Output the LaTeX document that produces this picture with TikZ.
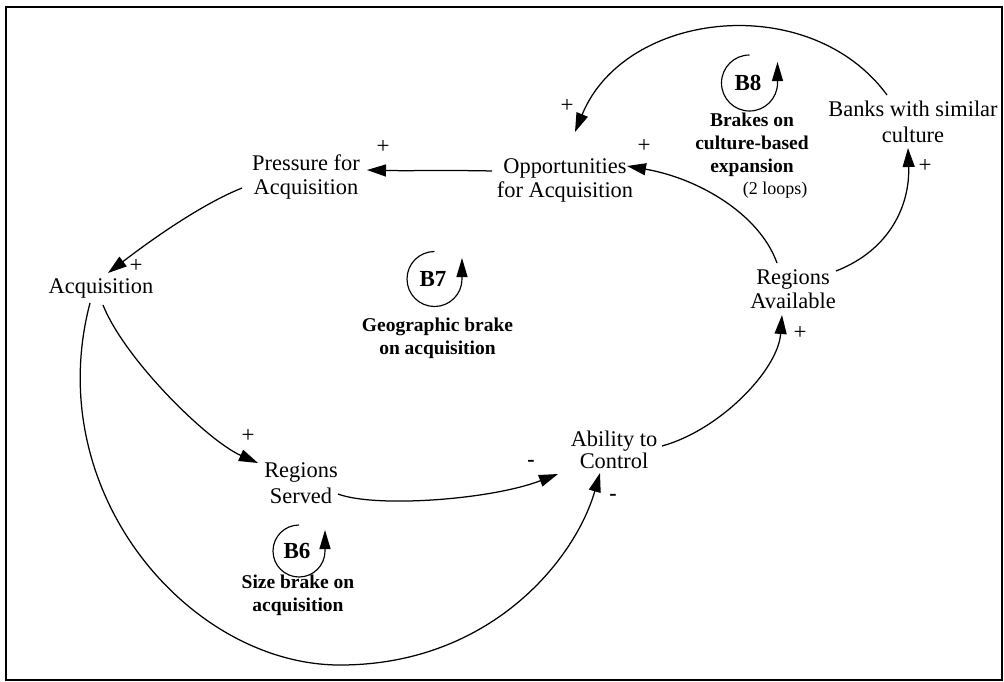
\documentclass[tikz,border=0pt]{standalone}
\usepackage{fontspec}
\setmainfont{Liberation Serif}
\usetikzlibrary{arrows.meta}
\begin{document}
\begin{tikzpicture}[x=1pt,y=-1pt,
  conn/.style={line width=1.25pt, -{Triangle[length=19pt,width=12pt]}},
  var/.style={align=center, inner sep=0pt, font=\fontsize{22.4}{24}\selectfont},
  pol/.style={inner sep=0pt, font=\fontsize{23}{24}\selectfont},
  note/.style={inner sep=0pt, font=\fontsize{18}{20}\selectfont},
  neg/.style={inner sep=0pt, font=\fontsize{22}{24}\selectfont\bfseries},
  loopid/.style={inner sep=0pt, font=\fontsize{23}{24}\selectfont\bfseries},
  looptxt/.style={align=center, inner sep=0pt, font=\fontsize{19.5}{23}\selectfont\bfseries},
  loopsym/.style={line width=1.15pt, -{Triangle[length=19pt,width=11pt]}}]

\useasboundingbox (0,0) rectangle (1004,681);
\draw[line width=1.8pt] (6,7) rectangle (1002,680);

% variables
\node[var] (pres)    at (306,177) {Pressure for\\Acquisition};
\node[var] (opp)     at (565,180) {Opportunities\\for Acquisition};
\node[var, font=\fontsize{22.4}{26}\selectfont] (banks) at (913,122) {Banks with similar\\culture};
\node[var] (acq)     at (101,288) {Acquisition};
\node[var, font=\fontsize{22.4}{26}\selectfont] (served) at (301,483) {Regions\\Served};
\node[var, font=\fontsize{22.4}{21.5}\selectfont] (ability) at (614,450) {Ability to\\Control};
\node[var] (avail)   at (793,289) {Regions\\Available};

% causal links
\draw[conn] ([shift={(-73,-9)}]opp.center) .. controls +(-40,-1) and +(40,1) .. ([shift={(61,-7)}]pres.center);
\draw[conn] ([shift={(-64,11)}]pres.center) .. controls +(-45,18) and +(34,-26) .. ([shift={(7,-15)}]acq.center);
\draw[conn] ([shift={(2,17)}]acq.center) .. controls +(22,55) and +(-50,-22) .. ([shift={(-43,-20)}]served.center);
\coordinate (low) at (340,665);
\draw[conn] ([shift={(-11,15)}]acq.center) .. controls +(-50,190) and +(-150,0) .. (low)
            .. controls +(150,0) and +(-25,87) .. ([shift={(-14,23)}]ability.center);
\draw[conn] ([shift={(37,11)}]served.center) .. controls +(37,14) and +(-68,26) .. ([shift={(-56,24)}]ability.center);
\draw[conn] ([shift={(48,-4)}]ability.center) .. controls +(58,-16) and +(-4,55) .. ([shift={(-11,26)}]avail.center);
\draw[conn] ([shift={(-16,-26)}]avail.center) .. controls +(-18,-50) and +(70,12) .. ([shift={(62,-14)}]opp.center);
\draw[conn] ([shift={(43,-18)}]avail.center) .. controls +(54,-21) and +(2,57) .. ([shift={(-5,26)}]banks.center);
\draw[conn] ([shift={(-26,-27)}]banks.center) .. controls +(-77,-105) and +(50,-122) .. ([shift={(10,-48)}]opp.center);

% polarities
\node[pol] (p1) at (383,147) {+};
\node[pol] (p2) at (136,266) {+};
\node[pol] (p3) at (248,436) {+};
\node[pol] (p4) at (567,106) {+};
\node[pol] (p5) at (644,146) {+};
\node[pol] (p6) at (925,166) {+};
\node[pol] (p7) at (800,333) {+};
\node[neg] (n1) at (531,463) {-};
\node[neg] (n2) at (613,497) {-};

% loop markers
\node[loopid] (b8) at (748,83) {B8};
\draw[loopsym] ([shift={(1.5,-28)}]b8.center) arc[start angle=270, end angle=0, radius=28] -- ++(0,-21);
\node[looptxt] (b8txt) at (752,145) {Brakes on\\culture-based\\expansion};
\node[note] (b8note) at (775,190) {(2 loops)};

\node[loopid] (b7) at (433,279) {B7};
\draw[loopsym] ([shift={(1.5,-27.5)}]b7.center) arc[start angle=270, end angle=0, radius=27.5] -- ++(0,-21);
\node[looptxt] (b7txt) at (437.5,338.5) {Geographic brake\\on acquisition};

\node[loopid] (b6) at (297,551) {B6};
\draw[loopsym] ([shift={(2,-26)}]b6.center) arc[start angle=270, end angle=0, radius=26] -- ++(0,-21);
\node[looptxt] (b6txt) at (298,595) {Size brake on\\acquisition};

\end{tikzpicture}
\end{document}
